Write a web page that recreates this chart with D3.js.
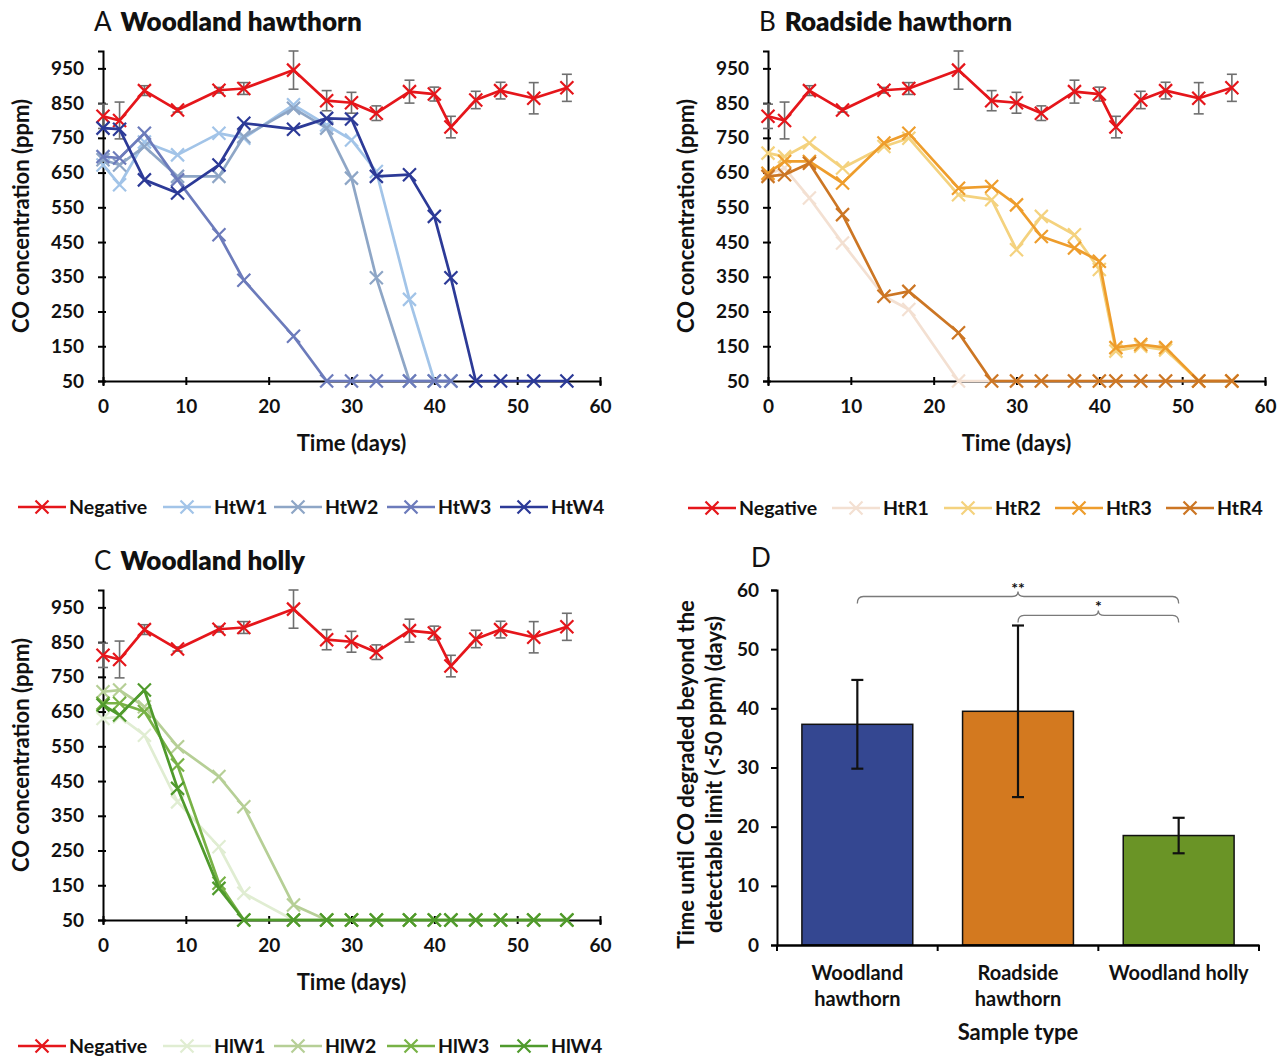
<!DOCTYPE html>
<html>
<head>
<meta charset="utf-8">
<script src="https://cdn.jsdelivr.net/npm/d3@7"></script>
<style>
  body { margin: 0; background: #fff; }
  text { font-family: Lato, "Open Sans", sans-serif; fill: #111; }
</style>
</head>
<body>
<svg id="fig" width="1283" height="1056"></svg>
<script>
// sampling days (same for all panels)
const days = [0, 2, 5, 9, 14, 17, 23, 27, 30, 33, 37, 40, 42, 45, 48, 52, 56];

// negative control, mean and error
const negative = [812, 800, 886, 830, 887, 892, 945, 857, 851, 821, 883, 876, 781, 859, 886, 864, 894];
const negativeErr = [35, 53, 14, 6, 8, 17, 55, 29, 30, 21, 33, 20, 31, 25, 24, 45, 39];

// A - woodland hawthorn
const htW1 = [672, 615, 738, 701, 763, 749, 845, 787, 744, 653, 285, 50, 50];
const htW2 = [687, 672, 725, 639, 639, 754, 835, 778, 634, 347, 50, 50, 50];
const htW3 = [696, 692, 763, 629, 471, 340, 179, 50, 50, 50, 50, 50, 50];
const htW4 = [778, 775, 629, 591, 672, 792, 775, 806, 804, 639, 644, 524, 347, 50, 50, 50, 50];

// B - roadside hawthorn
const htR1 = [645, 663, 577, 447, 294, 256, 50, 50, 50, 50, 50, 50, 50, 50, 50, 50, 50];
const htR2 = [706, 696, 735, 663, 725, 749, 586, 572, 428, 524, 471, 371, 136, 150, 139, 50, 50];
const htR3 = [648, 682, 682, 620, 735, 763, 605, 610, 557, 466, 433, 395, 146, 155, 146, 50, 50];
const htR4 = [639, 644, 677, 529, 294, 308, 189, 50, 50, 50, 50, 50, 50, 50, 50, 50, 50];

// C - woodland holly
const hlW1 = [630, 635, 582, 390, 261, 127, 50, 50, 50, 50, 50, 50, 50, 50, 50, 50, 50];
const hlW2 = [707, 712, 664, 549, 463, 376, 93, 50, 50, 50, 50, 50, 50, 50, 50, 50, 50];
const hlW3 = [674, 674, 650, 496, 156, 50, 50, 50, 50, 50, 50, 50, 50, 50, 50, 50, 50];
const hlW4 = [669, 640, 712, 429, 141, 50, 50, 50, 50, 50, 50, 50, 50, 50, 50, 50, 50];

const yTicks = [50, 150, 250, 350, 450, 550, 650, 750, 850, 950];
const xTicks = [0, 10, 20, 30, 40, 50, 60];

// D - time to degrade
const sampleTypes = ["Woodland hawthorn", "Roadside hawthorn", "Woodland holly"];
const degradeDays = [37.3, 39.5, 18.5];
const degradeErr = [7.5, 14.5, 3.0];
const barTicks = [0, 10, 20, 30, 40, 50, 60];

const svg = d3.select("#fig");

function styleAxis(g) {
  g.select(".domain").attr("stroke", "#000").attr("stroke-width", 2);
  g.selectAll(".tick text").style("font-weight", "700").style("font-size", "19px");
}

function drawMarker(g, color) {
  g.append("path").attr("d", "M-6.5,-6.5L6.5,6.5M-6.5,6.5L6.5,-6.5")
    .attr("stroke", color).attr("stroke-width", 2.2).attr("fill", "none");
}

function linePanel(cfg) {
  const x = d3.scaleLinear().domain([0, 60]).range([cfg.x0, cfg.x1]);
  const y = d3.scaleLinear().domain([50, 1000]).range([cfg.y0, cfg.y1]);
  const g = svg.append("g");

  // axes
  const xa = g.append("g").attr("transform", `translate(0,${cfg.y0})`)
    .call(d3.axisBottom(x).tickValues(xTicks).tickSizeOuter(0).tickSize(5).tickPadding(14));
  xa.selectAll(".tick line").attr("y1", -4).attr("y2", 4).attr("stroke-width", 2);
  styleAxis(xa);

  const ya = g.append("g").attr("transform", `translate(${cfg.x0},0)`)
    .call(d3.axisLeft(y).tickValues(yTicks).tickSizeOuter(0).tickSize(5).tickPadding(14));
  ya.selectAll(".tick line").attr("x1", -5).attr("x2", 3).attr("stroke-width", 2);
  styleAxis(ya);

  g.append("text").attr("x", (cfg.x0 + cfg.x1) / 2).attr("y", cfg.y0 + 70)
    .attr("text-anchor", "middle").style("font-weight", "700").style("font-size", "22px")
    .text("Time (days)");
  g.append("text")
    .attr("transform", `translate(${cfg.x0 - 74},${(cfg.y0 + cfg.y1) / 2}) rotate(-90)`)
    .attr("text-anchor", "middle").style("font-weight", "700").style("font-size", "22px")
    .text("CO concentration (ppm)");

  // title
  const t = g.append("text").attr("x", cfg.x0 - 9).attr("y", cfg.y1 - 20).style("font-size", "26px");
  t.append("tspan").text(cfg.letter);
  t.append("tspan").attr("dx", 9).style("font-weight", "800").text(cfg.title);

  const line = d3.line().x((d, i) => x(days[i])).y(d => y(d));

  // negative control with error bars
  const eb = g.append("g");
  negative.forEach((v, i) => {
    const cx = x(days[i]);
    eb.append("line").attr("x1", cx).attr("x2", cx)
      .attr("y1", y(v - negativeErr[i])).attr("y2", y(v + negativeErr[i]));
    [v - negativeErr[i], v + negativeErr[i]].forEach(e => {
      eb.append("line").attr("x1", cx - 5).attr("x2", cx + 5).attr("y1", y(e)).attr("y2", y(e));
    });
  });
  eb.selectAll("line").attr("stroke", "#6f6f6f").attr("stroke-width", 1.6);

  const all = [{ name: "Negative", values: negative, color: "#e5161b" }].concat(cfg.series);
  all.forEach(s => {
    g.append("path").attr("d", line(s.values)).attr("fill", "none")
      .attr("stroke", s.color).attr("stroke-width", 2.7).attr("stroke-linejoin", "round");
    s.values.forEach((v, i) => {
      drawMarker(g.append("g").attr("transform", `translate(${x(days[i])},${y(v)})`), s.color);
    });
  });

  // legend
  all.forEach((s, i) => {
    const lx = cfg.legendX[i];
    const lg = g.append("g").attr("transform", `translate(${lx},${cfg.legendY})`);
    lg.append("line").attr("x1", 0).attr("x2", 48).attr("stroke", s.color).attr("stroke-width", 2.7);
    drawMarker(lg.append("g").attr("transform", "translate(24,0)"), s.color);
    lg.append("text").attr("x", 51).attr("y", 7).style("font-weight", "700").style("font-size", "19.5px")
      .text(s.name);
  });
}

linePanel({
  letter: "A", title: "Woodland hawthorn",
  x0: 103, x1: 600, y0: 381, y1: 51,
  legendY: 507, legendX: [18, 163, 274, 387, 500],
  series: [
    { name: "HtW1", values: htW1, color: "#a2c4e8" },
    { name: "HtW2", values: htW2, color: "#8ea6c6" },
    { name: "HtW3", values: htW3, color: "#6c7bbb" },
    { name: "HtW4", values: htW4, color: "#2c3a97" }
  ]
});

linePanel({
  letter: "B", title: "Roadside hawthorn",
  x0: 768, x1: 1265, y0: 381, y1: 51,
  legendY: 508, legendX: [688, 832, 944, 1055, 1166],
  series: [
    { name: "HtR1", values: htR1, color: "#f3e0d2" },
    { name: "HtR2", values: htR2, color: "#f4d27e" },
    { name: "HtR3", values: htR3, color: "#ee9d2c" },
    { name: "HtR4", values: htR4, color: "#cc7624" }
  ]
});

linePanel({
  letter: "C", title: "Woodland holly",
  x0: 103, x1: 600, y0: 920, y1: 590,
  legendY: 1046, legendX: [18, 163, 274, 387, 500],
  series: [
    { name: "HlW1", values: hlW1, color: "#e0edd2" },
    { name: "HlW2", values: hlW2, color: "#b6cf96" },
    { name: "HlW3", values: hlW3, color: "#78b246" },
    { name: "HlW4", values: hlW4, color: "#4f9a2c" }
  ]
});

// D - bar chart
(function barPanel() {
  const x = d3.scaleBand().domain(sampleTypes).range([777, 1259]).paddingInner(0.31).paddingOuter(0.155);
  const y = d3.scaleLinear().domain([0, 60]).range([945, 590]);
  const colors = ["#344791", "#d3791f", "#6a9426"];
  const g = svg.append("g");

  g.append("text").attr("x", 751).attr("y", 567).style("font-size", "26px").text("D");

  const ya = g.append("g").attr("transform", "translate(777,0)")
    .call(d3.axisLeft(y).tickValues(barTicks).tickSizeOuter(0).tickSize(6).tickPadding(12));
  styleAxis(ya);
  ya.selectAll(".tick line").attr("stroke-width", 2);

  g.selectAll("rect.bar").data(sampleTypes).join("rect")
    .attr("x", d => x(d)).attr("width", x.bandwidth())
    .attr("y", (d, i) => y(degradeDays[i])).attr("height", (d, i) => y(0) - y(degradeDays[i]))
    .attr("fill", (d, i) => colors[i]).attr("stroke", "#111").attr("stroke-width", 1.5);

  const xa = g.append("g").attr("transform", "translate(0,945)")
    .call(d3.axisBottom(x).tickSize(0).tickFormat(""));
  xa.select(".domain").attr("stroke", "#000").attr("stroke-width", 2.4);
  // category boundary ticks
  const step = x.step();
  [0, 1, 2, 3].forEach(i => {
    const bx = 777 + i * step;
    xa.append("line").attr("x1", bx).attr("x2", bx).attr("y1", 0).attr("y2", 6)
      .attr("stroke", "#000").attr("stroke-width", 2);
  });

  // error bars
  sampleTypes.forEach((d, i) => {
    const cx = x(d) + x.bandwidth() / 2;
    const lo = degradeDays[i] - degradeErr[i], hi = degradeDays[i] + degradeErr[i];
    g.append("line").attr("x1", cx).attr("x2", cx).attr("y1", y(lo)).attr("y2", y(hi))
      .attr("stroke", "#111").attr("stroke-width", 2.2);
    [lo, hi].forEach(e => g.append("line").attr("x1", cx - 6).attr("x2", cx + 6)
      .attr("y1", y(e)).attr("y2", y(e)).attr("stroke", "#111").attr("stroke-width", 2.2));
  });

  // category labels
  const labelLines = [["Woodland", "hawthorn"], ["Roadside", "hawthorn"], ["Woodland holly"]];
  sampleTypes.forEach((d, i) => {
    const t = g.append("text").attr("x", x(d) + x.bandwidth() / 2).attr("y", 980)
      .attr("text-anchor", "middle").style("font-weight", "700").style("font-size", "20px");
    labelLines[i].forEach((l, j) => t.append("tspan").attr("x", x(d) + x.bandwidth() / 2)
      .attr("dy", j ? 26 : 0).text(l));
  });
  g.append("text").attr("x", 1018).attr("y", 1040).attr("text-anchor", "middle")
    .style("font-weight", "700").style("font-size", "22px").text("Sample type");

  const yt = g.append("text").attr("transform", `translate(694,${(945 + 590) / 2 + 7}) rotate(-90)`)
    .attr("text-anchor", "middle").style("font-weight", "700").style("font-size", "22px");
  yt.append("tspan").attr("x", 0).text("Time until CO degraded beyond the");
  yt.append("tspan").attr("x", 0).attr("dy", 28).text("detectable limit (<50 ppm) (days)");

  // significance brackets
  function bracket(a, b, level, label) {
    const x1 = x(sampleTypes[a]) + x.bandwidth() / 2, x2 = x(sampleTypes[b]) + x.bandwidth() / 2;
    const yy = y(level), xm = (x1 + x2) / 2;
    g.append("path")
      .attr("d", `M${x1},${yy + 7}Q${x1},${yy} ${x1 + 6},${yy}L${xm - 6},${yy}Q${xm},${yy} ${xm},${yy - 5}` +
        `Q${xm},${yy} ${xm + 6},${yy}L${x2 - 6},${yy}Q${x2},${yy} ${x2},${yy + 7}`)
      .attr("fill", "none").attr("stroke", "#7a7a7a").attr("stroke-width", 1.3);
    g.append("text").attr("x", xm).attr("y", yy - 3).attr("text-anchor", "middle")
      .style("font-size", "16px").style("font-weight", "700").text(label);
  }
  bracket(0, 2, 58.9, "**");
  bracket(1, 2, 55.7, "*");
})();
</script>
</body>
</html>
